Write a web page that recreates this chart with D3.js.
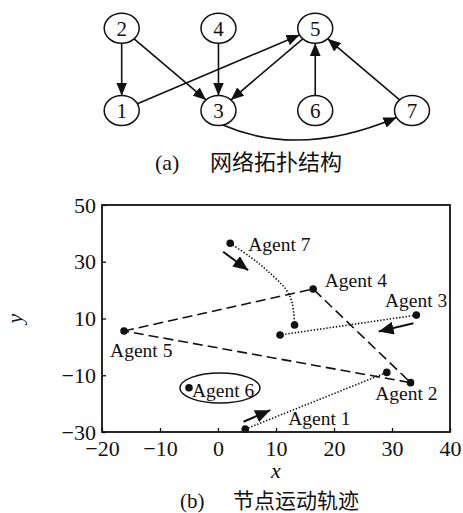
<!DOCTYPE html>
<html>
<head>
<meta charset="utf-8">
<script src="https://cdn.jsdelivr.net/npm/d3@7"></script>
<style>
body { margin: 0; background: #fff; }
svg { display: block; }
</style>
</head>
<body>
<div id="chart"></div>
<script>
// (a) network topology: node grid slots and directed edges
let nodeIds = [2, 4, 5, 1, 3, 6, 7];
let nodeCols = [0, 1, 2, 0, 1, 2, 3];
let nodeRows = [0, 0, 0, 1, 1, 1, 1];
let edges = [[2, 1], [2, 3], [4, 3], [1, 5], [5, 3], [6, 5], [7, 5]];
let curvedEdges = [[3, 7]];

// (b) agent trajectories
let xTicks = [-20, -10, 0, 10, 20, 30, 40];
let yTicks = [-30, -10, 10, 30, 50];
let agentNames = ["Agent 1", "Agent 2", "Agent 3", "Agent 4", "Agent 5", "Agent 6", "Agent 7"];
let agentX = [4.7, 33.2, 34.2, 16.4, -16.2, -5.0, 2.1];
let agentY = [-29.0, -12.6, 11.2, 20.4, 5.6, -14.4, 36.5];
let labelX = [12.1, 27.1, 28.8, 18.4, -18.6, -4.5, 5.2];
let labelY = [-25.1, -16.3, 16.5, 23.6, -1.1, -15.2, 36.3];
let formation = [5, 4, 2, 5];
let traj1 = [[4.7, -29.0], [29.1, -9.0]];
let traj3 = [[34.2, 11.2], [10.7, 4.2]];
let traj7 = [[2.1, 36.5], [5.5, 31.8], [8.4, 27.0], [11.8, 20.0], [12.8, 15.4], [13.2, 7.7]];
let moveArrows = [[[0.9, 33.5], [5.2, 27.0]], [[33.7, 8.3], [27.7, 5.4]], [[4.4, -26.4], [9.0, -22.3]]];
let ringCenter = [0.34, -14.5];

const SERIF = "'Liberation Serif', 'Times New Roman', 'DejaVu Serif', serif";
const CJK = "'Noto Sans CJK SC', sans-serif";

let W = 463, H = 513;
let svg = d3.select("#chart").append("svg")
	.attr("width", W).attr("height", H)
	.style("font-family", SERIF);

let defs = svg.append("defs");
let addMarker = function(id, w, l) {
	defs.append("marker")
		.attr("id", id)
		.attr("viewBox", `0 ${-w/2} ${l} ${w}`)
		.attr("refX", l).attr("refY", 0)
		.attr("markerUnits", "userSpaceOnUse")
		.attr("markerWidth", l).attr("markerHeight", w)
		.attr("orient", "auto")
		.append("path")
		.attr("d", `M0,${-w/2}L${l},0L0,${w/2}Z`)
		.attr("fill", "#111");
};
addMarker("headA", 11, 13);
addMarker("headB", 13, 15);

let serifText = sel => sel.style("font-family", SERIF).attr("fill", "#111");

//---------- (a) ----------
let colX = d3.scaleLinear().domain([0, 3]).range([121.7, 412]);
let rowY = d3.scaleLinear().domain([0, 1]).range([28.3, 110.5]);
let rx = 17.5, ry = 15;
let pos = {};
nodeIds.forEach((id, i) => pos[id] = [colX(nodeCols[i]), rowY(nodeRows[i])]);

let rim = function(c, dx, dy) {
	let t = 1 / Math.sqrt((dx/rx)*(dx/rx) + (dy/ry)*(dy/ry));
	return [c[0] + dx*t, c[1] + dy*t];
};

let gA = svg.append("g");
edges.forEach(e => {
	let a = pos[e[0]], b = pos[e[1]];
	let dx = b[0] - a[0], dy = b[1] - a[1];
	let p0 = rim(a, dx, dy), p1 = rim(b, -dx, -dy);
	gA.append("line")
		.attr("x1", p0[0]).attr("y1", p0[1])
		.attr("x2", p1[0]).attr("y2", p1[1])
		.attr("stroke", "#111").attr("stroke-width", 1.6)
		.attr("marker-end", "url(#headA)");
});
//the 3 -> 7 edge bends under node 6
curvedEdges.forEach(e => {
	let a = pos[e[0]], b = pos[e[1]];
	let p0 = rim(a, 0.3, 1), p1 = rim(b, -1, 0.45);
	let cx = (a[0] + b[0]) / 2 - 15, cy = Math.max(a[1], b[1]) + 48;
	gA.append("path")
		.attr("d", `M${p0[0]},${p0[1]}Q${cx},${cy} ${p1[0]},${p1[1]}`)
		.attr("fill", "none")
		.attr("stroke", "#111").attr("stroke-width", 1.6)
		.attr("marker-end", "url(#headA)");
});
nodeIds.forEach(id => {
	gA.append("ellipse")
		.attr("cx", pos[id][0]).attr("cy", pos[id][1])
		.attr("rx", rx).attr("ry", ry)
		.attr("fill", "#fff").attr("stroke", "#111").attr("stroke-width", 1.5);
	gA.append("text")
		.attr("x", pos[id][0]).attr("y", pos[id][1])
		.attr("dy", "0.35em")
		.attr("text-anchor", "middle")
		.attr("font-size", 21)
		.call(serifText)
		.text(id);
});

let capA = svg.append("text").attr("x", 155).attr("y", 170).attr("font-size", 22).call(serifText);
capA.append("tspan").text("(a)");
capA.append("tspan").style("font-family", CJK).attr("x", 210).text("网络拓扑结构");

//---------- (b) ----------
let x = d3.scaleLinear().domain([-20, 40]).range([102, 450]);
let y = d3.scaleLinear().domain([-30, 50]).range([432, 205]);

let gB = svg.append("g");
gB.append("g")
	.attr("transform", `translate(0, ${y(-30)})`)
	.call(d3.axisBottom(x).tickValues(xTicks).tickSizeInner(-4).tickSizeOuter(0).tickPadding(6))
	.call(g => g.select(".domain").remove())
	.call(g => g.selectAll("line").attr("stroke", "#111").attr("stroke-width", 1.3))
	.call(g => g.selectAll("text").attr("font-size", 22).call(serifText).attr("dy", "0.8em"));
gB.append("g")
	.attr("transform", `translate(${x(-20)}, 0)`)
	.call(d3.axisLeft(y).tickValues(yTicks).tickSizeInner(-4).tickSizeOuter(0).tickPadding(6))
	.call(g => g.select(".domain").remove())
	.call(g => g.selectAll("line").attr("stroke", "#111").attr("stroke-width", 1.3))
	.call(g => g.selectAll("text").attr("font-size", 22).call(serifText));

gB.append("rect")
	.attr("x", x(-20)).attr("y", y(50))
	.attr("width", x(40) - x(-20)).attr("height", y(-30) - y(50))
	.attr("fill", "none").attr("stroke", "#111").attr("stroke-width", 1.8);

let line = d3.line().x(d => x(d[0])).y(d => y(d[1]));
let curve = d3.line().x(d => x(d[0])).y(d => y(d[1])).curve(d3.curveCatmullRom);

gB.append("path")
	.attr("d", line(formation.map(k => [agentX[k-1], agentY[k-1]])))
	.attr("fill", "none").attr("stroke", "#111").attr("stroke-width", 1.6)
	.attr("stroke-dasharray", "10,5");
[traj1, traj3].forEach(t => {
	gB.append("path")
		.attr("d", line(t))
		.attr("fill", "none").attr("stroke", "#111").attr("stroke-width", 1.6)
		.attr("stroke-dasharray", "1.4,1.8");
});
gB.append("path")
	.attr("d", curve(traj7))
	.attr("fill", "none").attr("stroke", "#111").attr("stroke-width", 1.6)
	.attr("stroke-dasharray", "1.4,1.8");

let dots = [traj1[1], traj3[1], traj7[traj7.length-1]]
	.concat(agentX.map((v, i) => [v, agentY[i]]));
gB.selectAll("circle.pt")
	.data(dots)
	.enter()
	.append("circle")
	.attr("class", "pt")
	.attr("cx", d => x(d[0])).attr("cy", d => y(d[1]))
	.attr("r", 3.8).attr("fill", "#111");

moveArrows.forEach(a => {
	gB.append("line")
		.attr("x1", x(a[0][0])).attr("y1", y(a[0][1]))
		.attr("x2", x(a[1][0])).attr("y2", y(a[1][1]))
		.attr("stroke", "#111").attr("stroke-width", 2)
		.attr("marker-end", "url(#headB)");
});

gB.append("ellipse")
	.attr("cx", x(ringCenter[0])).attr("cy", y(ringCenter[1]))
	.attr("rx", 40).attr("ry", 15)
	.attr("fill", "none").attr("stroke", "#111").attr("stroke-width", 1.5);

gB.selectAll("text.agent")
	.data(agentNames)
	.enter()
	.append("text")
	.attr("class", "agent")
	.attr("x", (d, i) => x(labelX[i]))
	.attr("y", (d, i) => y(labelY[i]))
	.attr("dy", "0.35em")
	.attr("font-size", 19.5)
	.call(serifText)
	.text(d => d);

svg.append("text")
	.attr("x", x(10)).attr("y", 478)
	.attr("text-anchor", "middle")
	.attr("font-size", 22).attr("font-style", "italic")
	.call(serifText)
	.text("x");
svg.append("text")
	.attr("transform", `translate(22, ${y(10)}) rotate(-90)`)
	.attr("text-anchor", "middle")
	.attr("font-size", 22).attr("font-style", "italic")
	.call(serifText)
	.text("y");

let capB = svg.append("text").attr("x", 180).attr("y", 508).attr("font-size", 21).call(serifText);
capB.append("tspan").text("(b)");
capB.append("tspan").style("font-family", CJK).attr("x", 233).text("节点运动轨迹");
</script>
</body>
</html>
